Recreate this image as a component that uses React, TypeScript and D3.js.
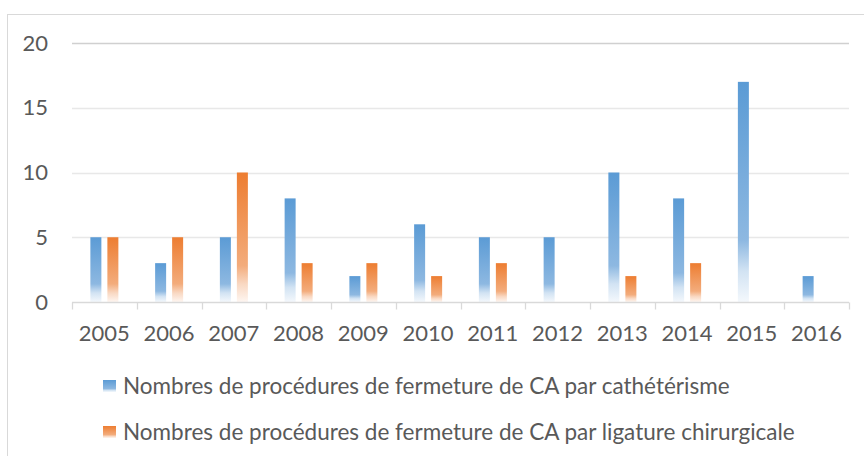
import React, { useEffect, useRef } from 'react';
import * as d3 from 'd3';

const years = ['2005', '2006', '2007', '2008', '2009', '2010', '2011', '2012', '2013', '2014', '2015', '2016'];
const catheterisme = [5, 3, 5, 8, 2, 6, 5, 5, 10, 8, 17, 2];
const ligature = [5, 5, 10, 3, 3, 2, 3, 0, 2, 3, 0, 0];
const seriesNames = [
    'Nombres de procédures de fermeture de CA par cathétérisme',
    'Nombres de procédures de fermeture de CA par ligature chirurgicale',
];
const yTicks = [0, 5, 10, 15, 20];

const FONT = 'Lato, "Open Sans", sans-serif';
const TEXT = '#595959';

function App() {
    const ref = useRef<SVGSVGElement>(null);

    useEffect(() => {
        if (!ref.current) return;
        const svg = d3.select(ref.current);
        svg.selectAll('*').remove();

        const left = 72, right = 849, top = 43, bottom = 302;

        const x = d3.scaleBand<string>().domain(years).range([left, right]).padding(0);
        const y = d3.scaleLinear().domain([0, 20]).range([bottom, top]);

        const defs = svg.append('defs');
        const grads = [
            { id: 'gBlue', stops: [['0%', '#5B9BD5'], ['72%', '#8DB8E1'], ['86%', '#D2E3F3'], ['100%', '#F4F8FC']] },
            { id: 'gOrange', stops: [['0%', '#ED7D31'], ['72%', '#F3AC7C'], ['86%', '#F9D8C2'], ['100%', '#FEF6F1']] },
        ];
        grads.forEach(g => {
            const lg = defs.append('linearGradient').attr('id', g.id)
                .attr('x1', 0).attr('y1', 0).attr('x2', 0).attr('y2', 1);
            g.stops.forEach(([o, c]) => lg.append('stop').attr('offset', o).attr('stop-color', c));
        });

        // chart border
        svg.append('rect')
            .attr('x', 7.5).attr('y', 14.5).attr('width', 870).attr('height', 470)
            .attr('fill', 'white').attr('stroke', '#d9d9d9');

        // gridlines
        svg.append('g').selectAll('line')
            .data(yTicks.filter(t => t > 0))
            .join('line')
            .attr('x1', left).attr('x2', right)
            .attr('y1', d => Math.round(y(d)) + 0.5).attr('y2', d => Math.round(y(d)) + 0.5)
            .attr('stroke', d => d === 20 ? '#d0d0d0' : '#e8e8e8')
            .attr('stroke-width', 1.3);

        // y labels
        svg.append('g').selectAll('text')
            .data(yTicks)
            .join('text')
            .attr('x', 48).attr('y', d => y(d))
            .attr('dy', '0.35em')
            .attr('text-anchor', 'end')
            .attr('font-family', FONT).attr('font-size', 22).attr('fill', TEXT)
            .text(d => d);

        const barW = 11, gap = 6;
        const groupW = barW * 2 + gap;
        const series = [
            { values: catheterisme, fill: 'url(#gBlue)', off: 0 },
            { values: ligature, fill: 'url(#gOrange)', off: barW + gap },
        ];
        series.forEach(s => {
            svg.append('g').selectAll('rect')
                .data(years.map((yr, i) => ({ yr, v: s.values[i] })).filter(d => d.v > 0))
                .join('rect')
                .attr('x', d => x(d.yr)! + x.bandwidth() / 2 - groupW / 2 + s.off)
                .attr('y', d => y(d.v))
                .attr('width', barW)
                .attr('height', d => y(0) - y(d.v))
                .attr('fill', s.fill);
        });

        // x axis
        const ax = svg.append('g').attr('transform', `translate(0,${bottom + 0.5})`);
        ax.append('line').attr('x1', left).attr('x2', right)
            .attr('stroke', '#d9d9d9').attr('stroke-width', 1.3);
        ax.selectAll('line.tick')
            .data(d3.range(years.length + 1))
            .join('line')
            .attr('class', 'tick')
            .attr('x1', i => Math.round(left + i * x.bandwidth()) + 0.5)
            .attr('x2', i => Math.round(left + i * x.bandwidth()) + 0.5)
            .attr('y1', 0).attr('y2', 7)
            .attr('stroke', '#d9d9d9').attr('stroke-width', 1.3);
        ax.selectAll('text')
            .data(years)
            .join('text')
            .attr('x', d => x(d)! + x.bandwidth() / 2)
            .attr('y', 31)
            .attr('dy', '0.35em')
            .attr('text-anchor', 'middle')
            .attr('font-family', FONT).attr('font-size', 22).attr('fill', TEXT)
            .text(d => d);

        // legend
        const legend = svg.append('g');
        const legendY = [386, 432];
        ['url(#gBlue)', 'url(#gOrange)'].forEach((fill, i) => {
            legend.append('rect')
                .attr('x', 103).attr('y', legendY[i] - 6)
                .attr('width', 13).attr('height', 12)
                .attr('fill', fill);
            legend.append('text')
                .attr('x', 123).attr('y', legendY[i])
                .attr('dy', '0.35em')
                .attr('font-family', FONT).attr('font-size', 22.5).attr('fill', TEXT)
                .text(seriesNames[i]);
        });
    }, []);

    return (
        <svg
            ref={ref}
            width={864}
            height={456}
            style={{ position: 'absolute', left: 0, top: 0, background: 'white' }}
        />
    );
}

export default App;
